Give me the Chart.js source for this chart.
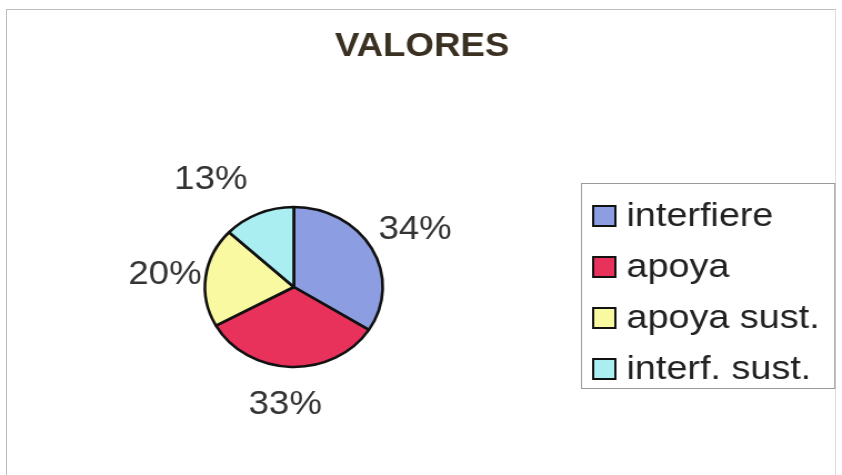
<!DOCTYPE html>
<html>
<head>
<meta charset="utf-8">
<script src="https://cdn.jsdelivr.net/npm/chart.js@4"></script>
<style>
  body { margin: 0; background: #fff; overflow: hidden; }
  #frame {
    position: absolute; left: 6px; top: 9px; width: 830px; height: 500px;
    border: 1px solid #bdbdbd; border-right-color: #dedede; box-sizing: border-box;
  }
  /* the reference is stretched a little horizontally */
  #wrap { position: absolute; left: 0; top: 0; width: 758px; height: 475px;
    transform: scale(1.1108, 1); transform-origin: 0 0; }
</style>
</head>
<body>
<div id="frame"></div>
<div id="wrap"><canvas id="chartValores" width="758" height="475"></canvas></div>
<script>
// datos
const categorias = ['interfiere', 'apoya', 'apoya sust.', 'interf. sust.'];
const porcentajes = [34, 33, 20, 13];
const colores = ['#8c9de2', '#e8325c', '#f9f9a2', '#aaeef2'];
const titulo = 'VALORES';

// pequeños ajustes de las etiquetas de porcentaje [dx, dy]
const ajusteEtiquetas = [[4, 1], [-4, -2], [3, 3], [-27, 3]];

const FUENTE = '"Liberation Sans", Arial, sans-serif';

const textosPlugin = {
    id: 'textos',
    afterDraw(chart) {
        const ctx = chart.ctx;
        ctx.save();

        // título
        ctx.fillStyle = '#3a3122';
        ctx.font = 'bold 33px ' + FUENTE;
        ctx.textAlign = 'center';
        ctx.textBaseline = 'middle';
        ctx.fillText(titulo, chart.width / 2 + 1, 47);

        // porcentajes alrededor del pastel
        const arcs = chart.getDatasetMeta(0).data;
        ctx.fillStyle = '#333';
        ctx.font = '33px ' + FUENTE;
        arcs.forEach((arc, i) => {
            const mid = (arc.startAngle + arc.endAngle) / 2;
            const d = arc.outerRadius + 40;
            const x = arc.x + Math.cos(mid) * d + ajusteEtiquetas[i][0];
            const y = arc.y + Math.sin(mid) * d + ajusteEtiquetas[i][1];
            ctx.fillText(porcentajes[i] + '%', x, y);
        });

        // leyenda con recuadro
        ctx.strokeStyle = '#9a9a9a';
        ctx.lineWidth = 1;
        ctx.strokeRect(523.5, 183.5, 228, 205);
        ctx.textAlign = 'left';
        ctx.font = '34px ' + FUENTE;
        categorias.forEach((cat, i) => {
            const cy = 216 + i * 51;
            ctx.fillStyle = colores[i];
            ctx.fillRect(534, cy - 10, 20, 20);
            ctx.strokeStyle = '#111';
            ctx.lineWidth = 2;
            ctx.strokeRect(534, cy - 10, 20, 20);
            ctx.fillStyle = '#222';
            ctx.fillText(cat, 564, cy + 1);
        });
        ctx.restore();
    }
};

new Chart(document.getElementById('chartValores'), {
    type: 'pie',
    data: {
        labels: categorias,
        datasets: [{
            data: porcentajes,
            backgroundColor: colores,
            borderColor: '#111',
            borderWidth: 2.6,
            radius: 80
        }]
    },
    options: {
        responsive: false,
        animation: false,
        layout: { padding: { left: 165, right: 394, top: 187, bottom: 88 } },
        plugins: {
            legend: { display: false },
            title: { display: false },
            tooltip: { enabled: false }
        }
    },
    plugins: [textosPlugin]
});
</script>
</body>
</html>
